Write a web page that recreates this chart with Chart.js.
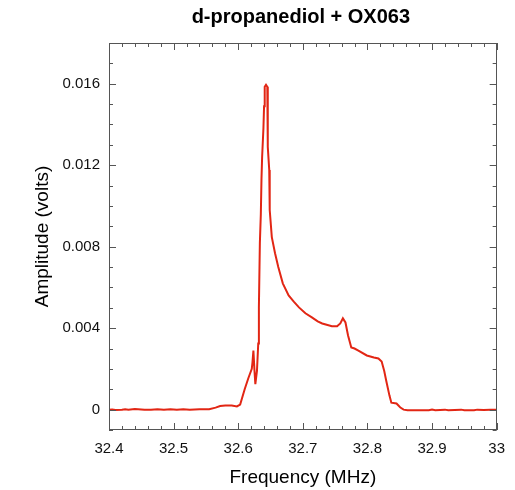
<!DOCTYPE html>
<html><head><meta charset="utf-8">
<script src="https://cdn.jsdelivr.net/npm/chart.js@4/dist/chart.umd.min.js"></script>
<style>html,body{margin:0;padding:0;background:#fff}#wrap{width:515px;height:490px}</style>
</head><body><div id="wrap"><canvas id="c" width="515" height="490"></canvas></div>
<script>
const titleText = 'd-propanediol + OX063';
const xTitle = 'Frequency (MHz)';
const yTitle = 'Amplitude (volts)';

const freqMHz = [32.400,32.405,32.410,32.420,32.425,32.430,32.440,32.450,32.455,32.465,32.475,32.485,32.495,32.505,32.515,32.525,32.540,32.555,32.565,32.572,32.580,32.590,32.598,32.603,32.610,32.6155,32.621,32.622,32.6235,32.625,32.6265,32.629,32.631,32.632,32.6335,32.635,32.636,32.637,32.639,32.640,32.641,32.643,32.645,32.6455,32.646,32.648,32.6485,32.649,32.652,32.657,32.662,32.669,32.678,32.686,32.694,32.704,32.714,32.723,32.730,32.745,32.753,32.758,32.762,32.766,32.770,32.775,32.780,32.786,32.799,32.810,32.817,32.822,32.826,32.829,32.834,32.837,32.845,32.848,32.851,32.856,32.862,32.880,32.895,32.900,32.905,32.920,32.925,32.945,32.950,32.965,32.970,32.980,32.990,33.000];
const amplitudeV = [0.00000,0.00001,-0.00002,0.00000,0.00002,0.00000,0.00003,0.00001,-0.00001,0.00000,0.00002,0.00000,0.00002,0.00000,0.00002,0.00000,0.00002,0.00002,0.00010,0.00018,0.00020,0.00020,0.00016,0.00025,0.00100,0.00153,0.00200,0.00230,0.00290,0.00200,0.00125,0.00190,0.00325,0.00500,0.00820,0.00960,0.01130,0.01240,0.01380,0.01490,0.01585,0.01595,0.01585,0.01490,0.01290,0.01177,0.01080,0.00980,0.00847,0.00768,0.00700,0.00620,0.00561,0.00530,0.00502,0.00473,0.00453,0.00433,0.00423,0.00409,0.00409,0.00423,0.00448,0.00428,0.00364,0.00305,0.00300,0.00290,0.00266,0.00256,0.00251,0.00236,0.00190,0.00143,0.00070,0.00034,0.00030,0.00020,0.00010,0.00000,-0.00003,-0.00003,-0.00003,0.00000,-0.00003,0.00000,-0.00003,0.00000,-0.00003,-0.00003,0.00000,-0.00002,0.00000,0.00000];

const xTickValues = [32.4,32.5,32.6,32.7,32.8,32.9,33.0];
const xTickLabels = ['32.4','32.5','32.6','32.7','32.8','32.9','33'];
const yTickValues = [0,0.004,0.008,0.012,0.016];
const yTickLabels = ['0','0.004','0.008','0.012','0.016'];
const xMinorTicks = [32.42,32.44,32.46,32.48,32.52,32.54,32.56,32.58,32.62,32.64,32.66,32.68,32.72,32.74,32.76,32.78,32.82,32.84,32.86,32.88,32.92,32.94,32.96,32.98];
const yMinorTicks = [-0.001,0.001,0.002,0.003,0.005,0.006,0.007,0.009,0.010,0.011,0.013,0.014,0.015,0.017];

const FONT = "'Liberation Sans', Arial, sans-serif";
const points = freqMHz.map((f, i) => ({x: f, y: amplitudeV[i]}));

const framePlugin = {
  id: 'frame',
  afterDraw(chart) {
    const {ctx, chartArea: a, scales: {x, y}} = chart;
    ctx.save();
    ctx.strokeStyle = '#555';
    ctx.lineWidth = 1;
    ctx.strokeRect(Math.round(a.left) + 0.5, Math.round(a.top) + 0.5, Math.round(a.right - a.left) - 1, Math.round(a.bottom - a.top) - 1);
    ctx.beginPath();
    const xt = (v, len) => {
      const px = Math.round(x.getPixelForValue(v)) + 0.5;
      ctx.moveTo(px, a.bottom); ctx.lineTo(px, a.bottom - len);
      ctx.moveTo(px, a.top); ctx.lineTo(px, a.top + len);
    };
    const yt = (v, len) => {
      const py = Math.round(y.getPixelForValue(v)) + 0.5;
      ctx.moveTo(a.left, py); ctx.lineTo(a.left + len, py);
      ctx.moveTo(a.right, py); ctx.lineTo(a.right - len, py);
    };
    xTickValues.forEach(v => xt(v, 7));
    xMinorTicks.forEach(v => xt(v, 4));
    yTickValues.forEach(v => yt(v, 7));
    yMinorTicks.forEach(v => yt(v, 4));
    ctx.stroke();
    // titles
    ctx.fillStyle = '#000';
    ctx.textAlign = 'center';
    ctx.textBaseline = 'middle';
    const cx = (a.left + a.right) / 2, cy = (a.top + a.bottom) / 2;
    ctx.font = 'bold 20px ' + FONT;
    ctx.fillText(titleText, cx - 2, 17);
    ctx.font = '19px ' + FONT;
    ctx.fillText(xTitle, cx, 478);
    ctx.translate(43, cy);
    ctx.rotate(-Math.PI / 2);
    ctx.fillText(yTitle, 0, 0);
    ctx.restore();
  }
};

new Chart(document.getElementById('c'), {
  type: 'line',
  data: { datasets: [{
    data: points,
    borderColor: 'rgb(226,38,20)',
    borderWidth: 2,
    pointRadius: 0,
    tension: 0,
    fill: false
  }]},
  options: {
    responsive: false,
    animation: false,
    devicePixelRatio: 1,
    layout: { padding: { top: 43, right: 18, left: 0, bottom: 0 } },
    plugins: { legend: { display: false }, title: { display: false }, tooltip: { enabled: false } },
    scales: {
      x: {
        type: 'linear', min: 32.4, max: 33.0,
        afterBuildTicks: s => { s.ticks = xTickValues.map(v => ({value: v})); },
        afterFit: s => { s.height = 60; },
        grid: { display: false, drawTicks: false },
        border: { display: false },
        ticks: { callback: (v, i) => xTickLabels[i], font: { family: FONT, size: 15 }, color: '#111', padding: 10, maxRotation: 0, autoSkip: false }
      },
      y: {
        type: 'linear', min: -0.001, max: 0.018,
        afterBuildTicks: s => { s.ticks = yTickValues.map(v => ({value: v})); },
        afterFit: s => { s.width = 109; },
        grid: { display: false, drawTicks: false },
        border: { display: false },
        ticks: { callback: (v, i) => yTickLabels[i], font: { family: FONT, size: 15 }, color: '#111', padding: 9, autoSkip: false }
      }
    }
  },
  plugins: [framePlugin]
});
</script></body></html>
